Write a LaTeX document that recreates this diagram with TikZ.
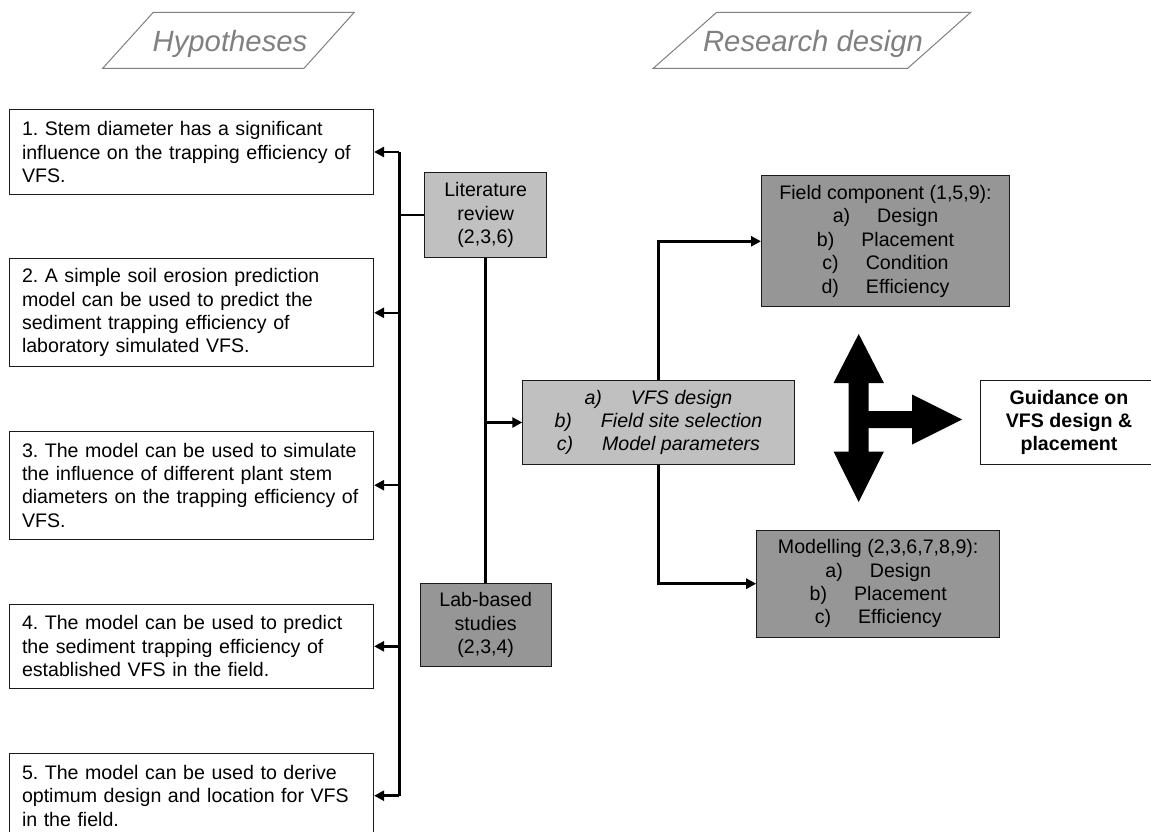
\documentclass[tikz,border=0pt]{standalone}
\usepackage{fontspec}
\setmainfont{Liberation Sans}
\usetikzlibrary{arrows.meta}
\definecolor{lightg}{HTML}{C0C0C0}
\definecolor{midg}{HTML}{969696}
\definecolor{hdrg}{HTML}{808080}
\definecolor{edgec}{HTML}{1A1A1A}
\frenchspacing
\begin{document}
\begin{tikzpicture}[x=1pt,y=-1pt,
  box/.style={draw=edgec, line width=1pt, inner sep=0pt, font=\fontsize{19.6}{23.4}\selectfont},
  hypbox/.style={box, fill=white, inner xsep=12.8pt, text width=338.8pt, align=left},
  listbox/.style={box, align=center},
  hdr/.style={draw=hdrg, line width=1pt},
  hdrtext/.style={text=hdrg, inner sep=0pt, font=\fontsize{29.3}{34}\selectfont\itshape},
  conn/.style={line width=2.5pt},
  busline/.style={line width=3pt},
  arr/.style={conn, -{Triangle[length=10pt,width=10pt]}},
]
\useasboundingbox (0,0) rectangle (1151,832);
\fill[white] (0,0) rectangle (1151,832);

% header parallelograms
\draw[hdr] (102.7,68.3) -- (153.3,12.3) -- (354.3,12.3) -- (304,68.3) -- cycle;
\node[hdrtext, anchor=base] (hyptxt) at (230,51.7) {Hypotheses};
\draw[hdr] (653.3,68.3) -- (716.7,12.3) -- (970.7,12.3) -- (907.7,68.3) -- cycle;
\node[hdrtext, anchor=base] (rdtxt) at (813,51.7) {Research design};

% hypotheses boxes
\node[hypbox, minimum height=84pt] (h1) at (191.4,152) {1. Stem diameter has a significant\\influence on the trapping efficiency of\\VFS.};
\node[hypbox, minimum height=107.7pt] (h2) at (191.4,312.8) {2. A simple soil erosion prediction\\model can be used to predict the\\sediment trapping efficiency of\\laboratory simulated VFS.};
\node[hypbox, minimum height=108.3pt] (h3) at (191.4,485.2) {3. The model can be used to simulate\\the influence of different plant stem\\diameters on the trapping efficiency of\\VFS.};
\node[hypbox, minimum height=84pt] (h4) at (191.4,646.3) {4. The model can be used to predict\\the sediment trapping efficiency of\\established VFS in the field.};
\node[hypbox, minimum height=84pt] (h5) at (191.4,795.7) {5. The model can be used to derive\\optimum design and location for VFS\\in the field.};

% middle boxes
\node[listbox, fill=lightg, minimum width=122pt, minimum height=84.6pt] (lit) at (485.7,215) {Literature\\review\\(2,3,6)};
\node[listbox, fill=midg, minimum width=131pt, minimum height=83.3pt] (lab) at (485.7,625.3) {Lab-based\\studies\\(2,3,4)};
\node[listbox, fill=lightg, minimum width=271.2pt, minimum height=83.6pt, font=\fontsize{19.6}{23.4}\selectfont\itshape] (vfs) at (658.4,422.5)
  {a)\hspace{29pt}VFS design\\b)\hspace{29pt}Field site selection\\c)\hspace{29pt}Model parameters};

% right boxes
\node[listbox, fill=midg, minimum width=248pt, minimum height=131.3pt] (field) at (885.5,241.3)
  {Field component (1,5,9):\\a)\hspace{27pt}Design\\b)\hspace{27pt}Placement\\c)\hspace{27pt}Condition\\d)\hspace{27pt}Efficiency};
\node[listbox, fill=midg, minimum width=243pt, minimum height=107.3pt] (model) at (878.2,583.7)
  {Modelling (2,3,6,7,8,9):\\a)\hspace{27pt}Design\\b)\hspace{27pt}Placement\\c)\hspace{27pt}Efficiency};
\node[listbox, fill=white, minimum width=176.4pt, minimum height=83.6pt, font=\fontsize{19.6}{23.4}\selectfont\bfseries] (guide) at (1069,422.5)
  {Guidance on\\VFS design \&\\placement};

% bus
\coordinate (busx) at (399.3,0);
\draw[busline] (h1.east -| busx) -- (h5.east -| busx);
\foreach \h in {h1,h2,h3,h4,h5} {
  \draw[arr] (\h.east -| busx) -- (\h.east);
}
\draw[conn] (lit.west) -- (lit.west -| busx);

% literature - lab line and arrow to VFS
\draw[conn] (lit.south) -- (lab.north);
\draw[arr] (vfs.west -| lit.south) -- (vfs.west);

% VFS to field / modelling
\draw[arr] (vfs.north) |- (field.west);
\draw[arr] (vfs.south) |- (model.west);

% big three-way arrow
\fill[black] (858.7,334) -- (883.9,383) -- (868.7,383) -- (868.7,411) -- (912,411)
  -- (912,394.5) -- (962,419.5) -- (912,444.5) -- (912,428) -- (868.7,428)
  -- (868.7,451.5) -- (883.9,451.5) -- (858.7,502) -- (833.5,451.5) -- (848.7,451.5)
  -- (848.7,383) -- (833.5,383) -- cycle;
\end{tikzpicture}
\end{document}
